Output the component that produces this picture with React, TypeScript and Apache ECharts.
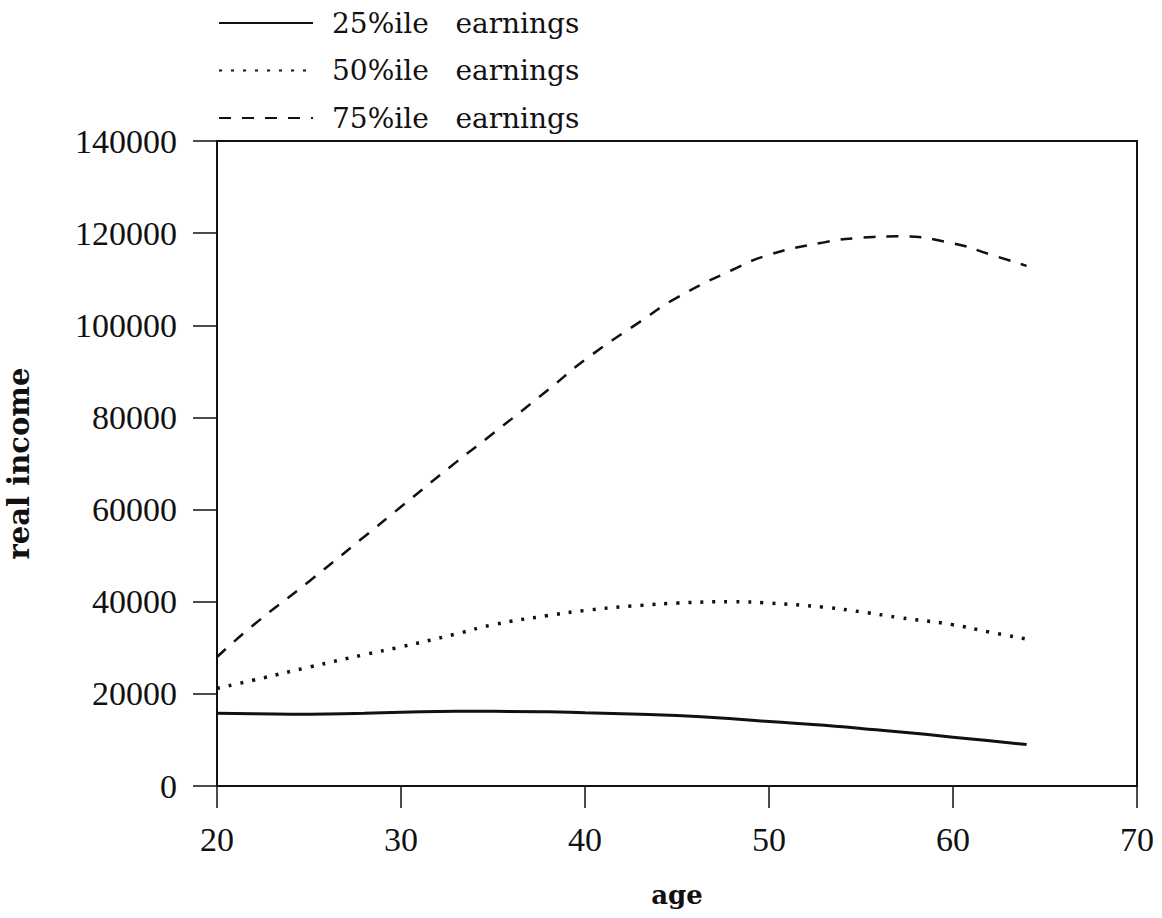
import React, { useEffect, useRef } from "react";
import * as echarts from "echarts";

const ages = [20, 22, 25, 28, 30, 33, 35, 38, 40, 43, 45, 48, 50, 53, 55, 57, 60, 62, 64];
const p25 = [15800, 15700, 15600, 15800, 16000, 16200, 16200, 16100, 15900, 15600, 15300, 14600, 14000, 13200, 12500, 11800, 10600, 9800, 9000];
const p50 = [21200, 23000, 25800, 28500, 30200, 33000, 35000, 37000, 38100, 39200, 39700, 40000, 39700, 38800, 37800, 36600, 35000, 33400, 31900];
const p75 = [28000, 35000, 44400, 54100, 60600, 70300, 76500, 86000, 92500, 100800, 106000, 112000, 115300, 118000, 119000, 119300, 117800, 115400, 112900];
const seriesNames = ["25%ile earnings", "50%ile earnings", "75%ile earnings"];
const xTicks = { min: 20, max: 70, interval: 10 };
const yTicks = { min: 0, max: 140000, interval: 20000 };

const FONT = "DejaVu Serif";
const NUMFONT = "Liberation Serif";

export default function App() {
  const ref = useRef<HTMLDivElement>(null);
  useEffect(() => {
    if (!ref.current) return;
    const chart = echarts.init(ref.current, undefined, { renderer: "svg" });
    const pair = (vals: number[]) => ages.map((a, i) => [a, vals[i]]);
    chart.setOption({
      animation: false,
      backgroundColor: "#ffffff",
      legend: {
        orient: "vertical",
        left: 218,
        top: 9,
        padding: 0,
        itemWidth: 94,
        itemHeight: 14,
        itemGap: 19.5,
        itemStyle: { opacity: 0 },
        formatter: (n: string) => n.replace(" ", "   "),
        textStyle: { fontFamily: FONT, fontSize: 28, color: "#111", lineHeight: 24, padding: [0, 0, 0, 14] },
        data: seriesNames,
      },
      grid: {
        left: 217,
        right: 25,
        top: 141,
        bottom: 132,
        containLabel: false,
        outerBoundsMode: "none",
        show: true,
        borderColor: "#111",
        borderWidth: 2,
      },
      xAxis: {
        type: "value",
        min: xTicks.min,
        max: xTicks.max,
        interval: xTicks.interval,
        name: "age",
        nameLocation: "middle",
        nameGap: 96,
        nameTextStyle: { fontFamily: FONT, fontSize: 26, fontWeight: "bold", color: "#111" },
        axisLine: { lineStyle: { color: "#111", width: 2 } },
        axisTick: { length: 22, lineStyle: { color: "#111", width: 1.5 } },
        axisLabel: { fontFamily: NUMFONT, fontSize: 34, color: "#111", margin: 36 },
        splitLine: { show: false },
      },
      yAxis: {
        type: "value",
        min: yTicks.min,
        max: yTicks.max,
        interval: yTicks.interval,
        name: "real income",
        nameLocation: "middle",
        nameGap: 184,
        nameRotate: 90,
        nameTextStyle: { fontFamily: FONT, fontSize: 29, fontWeight: "bold", color: "#111" },
        axisLine: { show: true, lineStyle: { color: "#111", width: 2 } },
        axisTick: { show: true, length: 24, lineStyle: { color: "#111", width: 1.5 } },
        axisLabel: { fontFamily: NUMFONT, fontSize: 34, color: "#111", margin: 40, formatter: (v: number) => String(v) },
        splitLine: { show: false },
      },
      series: [
        {
          name: seriesNames[0],
          type: "line",
          data: pair(p25),
          smooth: true,
          showSymbol: false,
          symbol: "none",
          lineStyle: { color: "#111", width: 3, type: "solid" },
          itemStyle: { color: "#111" },
        },
        {
          name: seriesNames[1],
          type: "line",
          data: pair(p50),
          smooth: true,
          showSymbol: false,
          symbol: "none",
          lineStyle: { color: "#111", width: 3.5, type: [3, 9] },
          itemStyle: { color: "#111" },
        },
        {
          name: seriesNames[2],
          type: "line",
          data: pair(p75),
          smooth: true,
          showSymbol: false,
          symbol: "none",
          lineStyle: { color: "#111", width: 2.5, type: [12, 11] },
          itemStyle: { color: "#111" },
        },
      ],
    });
    return () => chart.dispose();
  }, []);
  return <div ref={ref} style={{ width: 1162, height: 918, position: "absolute", left: 0, top: 0 }} />;
}
